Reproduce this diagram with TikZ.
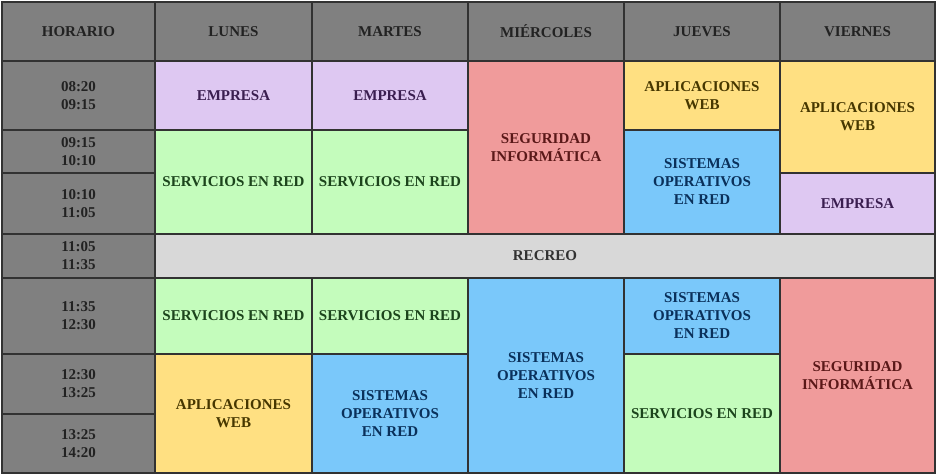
\documentclass[tikz,border=0pt]{standalone}
\usepackage{fontspec}
\setmainfont{Liberation Serif}
\definecolor{hdrfill}{RGB}{128,128,128}
\definecolor{hdrtext}{RGB}{34,34,34}
\definecolor{purfill}{RGB}{222,200,242}
\definecolor{purtext}{RGB}{58,30,80}
\definecolor{grnfill}{RGB}{196,252,188}
\definecolor{grntext}{RGB}{28,68,28}
\definecolor{redfill}{RGB}{240,155,155}
\definecolor{redtext}{RGB}{90,24,24}
\definecolor{yelfill}{RGB}{255,224,130}
\definecolor{yeltext}{RGB}{70,55,0}
\definecolor{blufill}{RGB}{122,200,250}
\definecolor{blutext}{RGB}{10,48,90}
\definecolor{recfill}{RGB}{216,216,216}
\definecolor{rectext}{RGB}{50,50,50}
\definecolor{gridline}{RGB}{50,50,50}
\tikzset{
  cellbox/.style={draw=gridline, line width=1.3pt, rectangle, inner sep=0pt, outer sep=0pt,
    align=center, font=\fontsize{15}{18}\selectfont\bfseries},
  hdr/.style={cellbox, fill=hdrfill, text=hdrtext},
  tim/.style={cellbox, fill=hdrfill, text=hdrtext},
  emp/.style={cellbox, fill=purfill, text=purtext},
  srv/.style={cellbox, fill=grnfill, text=grntext},
  seg/.style={cellbox, fill=redfill, text=redtext},
  apw/.style={cellbox, fill=yelfill, text=yeltext},
  sor/.style={cellbox, fill=blufill, text=blutext},
  rec/.style={cellbox, fill=recfill, text=rectext},
}
\newcommand\mkcell[7]{\node[#6, minimum width={#4-#2}, minimum height={#5-#3}] (#1) at ({(#2+#4)/2},{(#3+#5)/2}) {#7};}
\begin{document}
\begin{tikzpicture}[x=1pt,y=-1pt]
\fill[white] (0,0) rectangle (937,476);
\useasboundingbox (0,0) rectangle (937,476);
% header
\mkcell{h0}{2}{2}{155}{61}{hdr}{HORARIO}
\mkcell{h1}{155}{2}{312}{61}{hdr}{LUNES}
\mkcell{h2}{312}{2}{468}{61}{hdr}{MARTES}
\mkcell{h3}{468}{2}{624}{61}{hdr}{MIÉRCOLES}
\mkcell{h4}{624}{2}{780}{61}{hdr}{JUEVES}
\mkcell{h5}{780}{2}{935}{61}{hdr}{VIERNES}
% times
\mkcell{t1}{2}{61}{155}{130}{tim}{08:20\\09:15}
\mkcell{t2}{2}{130}{155}{173}{tim}{09:15\\10:10}
\mkcell{t3}{2}{173}{155}{234}{tim}{10:10\\11:05}
\mkcell{t4}{2}{234}{155}{278}{tim}{11:05\\11:35}
\mkcell{t5}{2}{278}{155}{354}{tim}{11:35\\12:30}
\mkcell{t6}{2}{354}{155}{414}{tim}{12:30\\13:25}
\mkcell{t7}{2}{414}{155}{473}{tim}{13:25\\14:20}
% lunes
\mkcell{lu1}{155}{61}{312}{130}{emp}{EMPRESA}
\mkcell{lu2}{155}{130}{312}{234}{srv}{SERVICIOS EN RED}
\mkcell{lu3}{155}{278}{312}{354}{srv}{SERVICIOS EN RED}
\mkcell{lu4}{155}{354}{312}{473}{apw}{APLICACIONES\\WEB}
% martes
\mkcell{ma1}{312}{61}{468}{130}{emp}{EMPRESA}
\mkcell{ma2}{312}{130}{468}{234}{srv}{SERVICIOS EN RED}
\mkcell{ma3}{312}{278}{468}{354}{srv}{SERVICIOS EN RED}
\mkcell{ma4}{312}{354}{468}{473}{sor}{SISTEMAS\\OPERATIVOS\\EN RED}
% miercoles
\mkcell{mi1}{468}{61}{624}{234}{seg}{SEGURIDAD\\INFORMÁTICA}
\mkcell{mi2}{468}{278}{624}{473}{sor}{SISTEMAS\\OPERATIVOS\\EN RED}
% jueves
\mkcell{ju1}{624}{61}{780}{130}{apw}{APLICACIONES\\WEB}
\mkcell{ju2}{624}{130}{780}{234}{sor}{SISTEMAS\\OPERATIVOS\\EN RED}
\mkcell{ju3}{624}{278}{780}{354}{sor}{SISTEMAS\\OPERATIVOS\\EN RED}
\mkcell{ju4}{624}{354}{780}{473}{srv}{SERVICIOS EN RED}
% viernes
\mkcell{vi1}{780}{61}{935}{173}{apw}{APLICACIONES\\WEB}
\mkcell{vi2}{780}{173}{935}{234}{emp}{EMPRESA}
\mkcell{vi3}{780}{278}{935}{473}{seg}{SEGURIDAD\\INFORMÁTICA}
% recreo
\mkcell{rec}{155}{234}{935}{278}{rec}{RECREO}
\end{tikzpicture}
\end{document}
